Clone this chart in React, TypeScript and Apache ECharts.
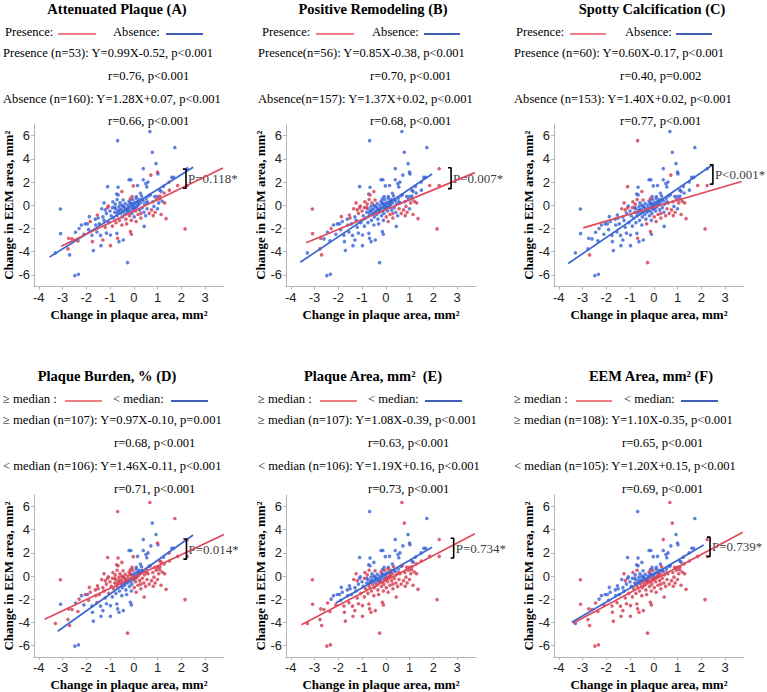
import React, { useEffect, useRef } from "react";
import * as echarts from "echarts";

// Shared observations: [change in plaque area, change in EEM area, group flags for panels A..F (1 = red group)]
const points: [number, number, string][] = [
  [-1.2, -0.4, "011111"], [-1.15, -0.7, "010100"], [-1.0, -0.5, "010100"], [-0.95, -0.9, "000100"],
  [-0.9, -0.2, "011110"], [-0.88, 0.3, "011111"], [-0.85, -1.1, "000111"], [-0.8, -0.6, "000100"],
  [-0.78, 0.1, "011110"], [-0.75, -0.3, "000100"], [-0.7, -0.9, "000111"], [-0.7, 0.5, "011111"],
  [-0.65, -0.5, "000100"], [-0.62, -0.1, "000100"], [-0.6, -1.3, "100011"], [-0.58, 0.2, "010100"],
  [-0.55, -0.7, "000111"], [-0.52, -0.35, "000100"], [-0.5, 0.0, "000100"], [-0.48, -1.0, "000011"],
  [-0.45, 0.45, "011110"], [-0.43, -0.55, "000101"], [-0.4, -0.15, "000100"], [-0.38, -0.8, "000011"],
  [-0.36, 0.15, "000100"], [-0.33, -1.2, "100011"], [-0.3, -0.4, "000101"], [-0.28, -0.6, "000011"],
  [-0.25, 0.0, "000100"], [-0.23, -0.25, "000100"], [-0.2, 0.35, "000111"], [-0.18, -0.9, "100011"],
  [-0.15, -0.5, "000011"], [-0.12, 0.1, "000100"], [-0.1, -0.2, "000101"], [-0.08, -0.7, "000011"],
  [-0.05, 0.5, "000111"], [-0.03, -0.35, "000011"], [0.0, 0.0, "000000"], [0.02, -1.0, "011111"],
  [0.05, 0.25, "000000"], [0.08, -0.5, "100111"], [0.1, 0.6, "000010"], [0.12, -0.15, "000111"],
  [0.15, 0.3, "000000"], [0.18, -0.8, "111111"], [0.2, 0.05, "000111"], [0.23, 0.5, "000010"],
  [0.25, -0.4, "000111"], [0.28, 0.2, "000111"], [0.3, -1.1, "111111"], [0.33, 0.8, "000011"],
  [0.36, -0.2, "000111"], [0.4, 0.4, "000100"], [0.43, -0.6, "000111"], [0.45, 0.1, "000111"],
  [0.5, -0.9, "001111"], [0.53, 0.6, "000100"], [0.56, -0.3, "011111"], [0.6, 0.2, "000111"],
  [0.65, -0.7, "111111"], [0.7, 0.9, "000110"], [0.75, -0.4, "111111"], [0.8, 0.3, "001111"],
  [0.85, -0.1, "010111"], [0.9, -0.6, "111111"], [0.95, 0.5, "101111"], [1.0, -0.3, "000111"],
  [1.05, 0.2, "011111"], [1.1, 0.8, "100111"], [1.15, -0.8, "111111"], [1.2, 0.35, "011111"],
  [1.28, 1.05, "100111"], [-1.3, -1.0, "000100"], [-1.35, -0.3, "011110"], [-1.25, 0.2, "011111"],
  [-1.45, -1.6, "000100"], [-1.5, -1.1, "010100"], [-1.55, -2.3, "000111"], [-1.2, -1.9, "100011"],
  [-1.05, -1.5, "000111"], [-0.9, -1.8, "100011"], [-0.75, -1.5, "100011"], [-0.5, -1.7, "100011"],
  [-0.3, -1.6, "101011"], [-0.1, -1.3, "100011"], [0.1, -1.4, "111111"], [0.3, -0.7, "111111"],
  [0.68, 6.35, "000111"], [-0.68, 5.57, "001100"], [1.73, 4.97, "000100"], [0.78, 4.57, "000011"],
  [0.94, 3.59, "000000"], [0.4, 3.16, "000001"], [0.72, 2.6, "101000"], [1.0, 2.85, "100100"],
  [-0.2, 2.2, "000000"], [-0.12, 2.2, "000000"], [1.6, 2.4, "000000"], [1.68, 2.4, "000000"],
  [2.25, 3.15, "010111"], [2.25, 1.7, "111111"], [1.85, 1.7, "111111"], [-1.1, 1.6, "001100"],
  [-0.66, 1.55, "000100"], [-0.02, 1.67, "100100"], [0.16, 1.7, "000000"], [0.51, 1.86, "000000"],
  [0.55, 1.58, "000000"], [1.25, 1.63, "000000"], [1.49, 2.0, "100100"], [-0.72, 0.97, "000100"],
  [-0.66, 0.89, "010100"], [-0.5, 1.18, "111100"], [-0.07, 0.75, "100100"], [-0.14, 0.55, "101100"],
  [0.64, 0.83, "000000"], [0.88, 0.75, "000111"], [0.99, 0.75, "000111"], [1.09, 0.55, "100111"],
  [0.28, 1.03, "000000"], [0.11, 0.75, "000000"], [1.02, 2.7, "000000"], [0.4, 2.2, "000000"],
  [0.6, 2.0, "000000"], [1.1, 1.3, "000100"], [1.5, 1.3, "100111"], [1.3, 0.2, "111111"],
  [1.15, 1.2, "000100"],
  [-3.09, -0.32, "010111"], [-3.08, -2.44, "010011"], [-2.74, -2.84, "110111"], [-2.77, -3.76, "110111"],
  [-2.7, -4.28, "011111"], [-3.3, -4.1, "000110"], [-2.45, -2.33, "000011"], [-2.35, -3.07, "100111"],
  [-2.48, -6.06, "000011"], [-2.33, -5.95, "000011"], [-2.04, -1.6, "000100"], [-1.95, -1.6, "000000"],
  [-1.87, -0.98, "010100"], [-1.83, -1.4, "100100"], [-1.76, -2.59, "000011"], [-1.74, -3.13, "100011"],
  [-1.7, -3.9, "000011"], [-1.38, -3.48, "000011"], [-1.3, -2.99, "100011"], [-0.98, -3.48, "100011"],
  [-0.98, -2.56, "000011"], [-0.71, -2.42, "000011"], [-0.68, -2.84, "101011"], [-0.62, -3.13, "000011"],
  [-0.44, -2.99, "000011"], [-0.26, -4.94, "001111"], [-0.14, -2.27, "101011"], [-0.1, -2.5, "100011"],
  [0.44, -1.82, "000111"], [0.82, -0.89, "111111"], [1.36, -1.15, "111111"], [2.16, -2.04, "111111"],
  [-1.1, -0.2, "111100"], [-1.07, -0.06, "110100"], [-1.53, -0.84, "110100"], [-1.62, -1.2, "000100"],
  [-2.2, -1.7, "000000"], [-2.1, -2.5, "000011"], [-1.9, -2.1, "000100"], [-2.6, -2.9, "100111"],
  [-1.4, -2.6, "000011"], [-1.6, -1.7, "000100"], [-2.3, -2.0, "010100"], [-1.15, -2.4, "000011"],
  [-1.25, -1.3, "000100"],
  [-0.35, -0.3, "000100"], [-0.15, 0.2, "000100"], [0.05, -0.2, "000111"], [-0.45, -0.1, "000100"],
  [0.15, 0.0, "000111"], [-0.25, -0.45, "000101"], [0.2, 0.35, "000000"], [-0.6, -0.4, "000100"],
  [0.35, 0.5, "000000"], [-0.05, 0.15, "000000"], [-0.8, -0.2, "010100"], [0.0, -0.25, "000111"],
  [-0.7, -0.65, "000100"], [0.55, 0.3, "000111"],
];

const xTicks = [-4, -3, -2, -1, 0, 1, 2, 3];
const yTicks = [-6, -4, -2, 0, 2, 4, 6];

const titles = [
  "Attenuated Plaque (A)", "Positive Remodeling (B)", "Spotty Calcification (C)",
  "Plaque Burden, % (D)", "Plaque Area, mm\u00B2  (E)", "EEM Area, mm\u00B2 (F)",
];
const legendRed = ["Presence:", "Presence:", "Presence:", "\u2265 median :", "\u2265 median :", "\u2265 median :"];
const legendBlue = ["Absence:", "Absence:", "Absence:", "< median:", "< median:", "< median:"];
const statRed = [
  "Presence (n=53): Y=0.99X-0.52, p<0.001",
  "Presence(n=56): Y=0.85X-0.38, p<0.001",
  "Presence (n=60): Y=0.60X-0.17, p<0.001",
  "\u2265 median (n=107): Y=0.97X-0.10, p=0.001",
  "\u2265 median (n=107): Y=1.08X-0.39, p<0.001",
  "\u2265 median (n=108): Y=1.10X-0.35, p<0.001",
];
const rRed = ["r=0.76, p<0.001", "r=0.70, p<0.001", "r=0.40, p=0.002", "r=0.68, p<0.001", "r=0.63, p<0.001", "r=0.65, p<0.001"];
const statBlue = [
  "Absence (n=160): Y=1.28X+0.07, p<0.001",
  "Absence(n=157): Y=1.37X+0.02, p<0.001",
  "Absence (n=153): Y=1.40X+0.02, p<0.001",
  "< median (n=106): Y=1.46X-0.11, p<0.001",
  "< median (n=106): Y=1.19X+0.16, p<0.001",
  "< median (n=105): Y=1.20X+0.15, p<0.001",
];
const rBlue = ["r=0.66, p<0.001", "r=0.68, p<0.001", "r=0.77, p<0.001", "r=0.71, p<0.001", "r=0.73, p<0.001", "r=0.69, p<0.001"];

// Fitted-line endpoints per panel
const redLines: [number, number][][] = [
  [[-3.05, -3.54], [3.76, 3.2]],
  [[-3.35, -3.23], [3.75, 2.81]],
  [[-2.97, -1.95], [3.7, 2.05]],
  [[-3.75, -3.74], [3.8, 3.59]],
  [[-3.55, -4.22], [3.75, 3.66]],
  [[-3.4, -4.09], [3.75, 3.78]],
];
const blueLines: [number, number][][] = [
  [[-3.55, -4.47], [2.5, 3.27]],
  [[-3.6, -4.91], [1.95, 2.69]],
  [[-3.6, -5.02], [2.45, 3.45]],
  [[-3.2, -4.78], [2.5, 3.54]],
  [[-2.1, -2.34], [1.95, 2.48]],
  [[-3.45, -3.99], [2.1, 2.67]],
];

const bracketX = [2.2, 2.75, 2.49, 2.22, 2.86, 2.37];
const bracketLow = [1.47, 1.43, 1.82, 1.46, 1.55, 1.69];
const bracketHigh = [3.11, 3.23, 3.48, 3.2, 3.26, 3.36];
const pLabels = ["P=0.118*", "P=0.007*", "P<0.001*", "P=0.014*", "P=0.734*", "P=0.739*"];

const SERIF = '"Liberation Serif", "Times New Roman", serif';
const SANS = '"Liberation Sans", Arial, sans-serif';
const RED_PT = "#d23a4f";
const BLUE_PT = "#3a62d6";
const RED_LN = "#de4a5c";
const BLUE_LN = "#3b68cf";

const colLeft = [34, 286, 554];
const rowTop = [124, 495];
const GW = 190;
const GH = 162.5;

// text layout (pixels)
const titleCX = [[117, 373, 652], [107, 373, 651]];
const statX = [[3, 258, 514], [3, 258, 514]];
const rX = [[108, 370, 620], [114, 368, 622]];
const legendPos = [
  [[5, 58, 96, 113, 166, 203], [262, 316, 354, 372, 424, 460], [516, 570, 606, 625, 676, 712]],
  [[3, 65, 102, 113, 171, 208], [258, 320, 357, 368, 425, 462], [514, 576, 612, 624, 681, 718]],
];
const rowY = [
  [9, 32, 53, 76, 99, 121],
  [376, 399, 420, 443, 466, 489],
];

const BODY_FONT = `12.6px ${SERIF}`;

function buildOption() {
  const grid: any[] = [];
  const xAxis: any[] = [];
  const yAxis: any[] = [];
  const series: any[] = [];
  const graphic: any[] = [];

  for (let p = 0; p < 6; p++) {
    const col = p % 3;
    const row = Math.floor(p / 3);
    grid.push({ left: colLeft[col], top: rowTop[row], width: GW, height: GH });
    xAxis.push({
      type: "value", gridIndex: p, min: -4.2, max: 3.8,
      axisLine: { onZero: false, lineStyle: { color: "#b5b5b5", width: 1 } },
      axisTick: { show: true, customValues: xTicks, length: 3, lineStyle: { color: "#b5b5b5" } },
      axisLabel: { customValues: xTicks, color: "#222", fontFamily: SANS, fontSize: 13, margin: 4 },
      splitLine: { show: false },
      name: "Change in plaque area, mm\u00B2", nameLocation: "middle", nameGap: 21,
      nameTextStyle: { fontFamily: SERIF, fontWeight: "bold", fontSize: 13, color: "#000" },
    });
    yAxis.push({
      type: "value", gridIndex: p, min: -7, max: 7,
      axisLine: { onZero: false, lineStyle: { color: "#b5b5b5", width: 1 } },
      axisTick: { show: true, customValues: yTicks, length: 3, lineStyle: { color: "#b5b5b5" } },
      axisLabel: { customValues: yTicks, color: "#222", fontFamily: SANS, fontSize: 13, margin: 4 },
      splitLine: { show: false },
      name: "Change in EEM area, mm\u00B2", nameLocation: "middle", nameGap: 18,
      nameTextStyle: { fontFamily: SERIF, fontWeight: "bold", fontSize: 13, color: "#000" },
    });
    const blue = points.filter((pt) => pt[2][p] === "0").map((pt) => [pt[0], pt[1]]);
    const red = points.filter((pt) => pt[2][p] === "1").map((pt) => [pt[0], pt[1]]);
    series.push({
      type: "scatter", xAxisIndex: p, yAxisIndex: p, data: blue, symbolSize: 3.6,
      itemStyle: { color: BLUE_PT }, silent: true,
    });
    series.push({
      type: "scatter", xAxisIndex: p, yAxisIndex: p, data: red, symbolSize: 3.6,
      itemStyle: { color: RED_PT }, silent: true,
    });
    series.push({
      type: "line", xAxisIndex: p, yAxisIndex: p, data: blueLines[p], symbol: "none",
      lineStyle: { color: BLUE_LN, width: 1.7 }, silent: true,
    });
    series.push({
      type: "line", xAxisIndex: p, yAxisIndex: p, data: redLines[p], symbol: "none",
      lineStyle: { color: RED_LN, width: 1.7 }, silent: true,
    });
    const bx = bracketX[p];
    series.push({
      type: "line", xAxisIndex: p, yAxisIndex: p, symbol: "none",
      data: [[bx - 0.13, bracketHigh[p]], [bx, bracketHigh[p]], [bx, bracketLow[p]], [bx - 0.13, bracketLow[p]]],
      lineStyle: { color: "#000", width: 1.6 }, silent: true,
    });
    series.push({
      type: "scatter", xAxisIndex: p, yAxisIndex: p, symbolSize: 0, silent: true,
      data: [[bx, (bracketLow[p] + bracketHigh[p]) / 2]],
      label: {
        show: true, position: "right", distance: 2, formatter: pLabels[p],
        fontFamily: SERIF, fontSize: 13, color: "#000",
      },
    });

    const ys = rowY[row];
    graphic.push({
      type: "text", x: titleCX[row][col], y: ys[0],
      style: { text: titles[p], font: `bold 14.5px ${SERIF}`, fill: "#000", align: "center", verticalAlign: "middle" },
    });
    const lp = legendPos[row][col];
    graphic.push({
      type: "text", x: lp[0], y: ys[1],
      style: { text: legendRed[p], font: BODY_FONT, fill: "#000", align: "left", verticalAlign: "middle" },
    });
    graphic.push({
      type: "line", shape: { x1: lp[1], y1: ys[1] + 2, x2: lp[2], y2: ys[1] + 2 },
      style: { stroke: "#f07d84", lineWidth: 2.2 },
    });
    graphic.push({
      type: "text", x: lp[3], y: ys[1],
      style: { text: legendBlue[p], font: BODY_FONT, fill: "#000", align: "left", verticalAlign: "middle" },
    });
    graphic.push({
      type: "line", shape: { x1: lp[4], y1: ys[1] + 2, x2: lp[5], y2: ys[1] + 2 },
      style: { stroke: "#3f5fb5", lineWidth: 2.2 },
    });
    const lines = [
      [statRed[p], statX[row][col], ys[2]],
      [rRed[p], rX[row][col], ys[3]],
      [statBlue[p], statX[row][col], ys[4]],
      [rBlue[p], rX[row][col], ys[5]],
    ];
    for (const [t, x, y] of lines) {
      graphic.push({
        type: "text", x, y,
        style: { text: t, font: BODY_FONT, fill: "#000", align: "left", verticalAlign: "middle" },
      });
    }
  }

  return { animation: false, backgroundColor: "#fff", grid, xAxis, yAxis, series, graphic };
}

export default function App() {
  const ref = useRef<HTMLDivElement>(null);
  useEffect(() => {
    if (!ref.current) return;
    const chart = echarts.init(ref.current, undefined, { renderer: "svg" });
    chart.setOption(buildOption());
    return () => chart.dispose();
  }, []);
  return (
    <div
      ref={ref}
      style={{ position: "fixed", left: 0, top: 0, width: 767, height: 692, background: "#fff" }}
    />
  );
}
